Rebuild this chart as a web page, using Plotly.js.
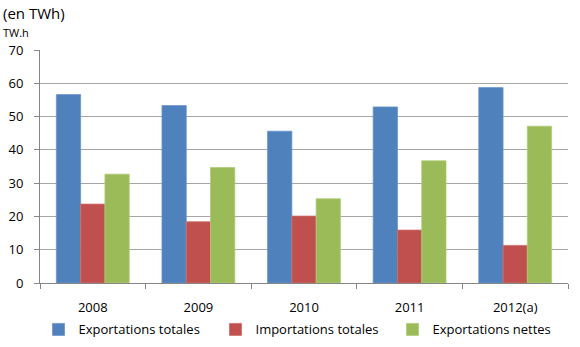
<!DOCTYPE html>
<html><head><meta charset="utf-8">
<script src="https://cdn.plot.ly/plotly-3.0.1.min.js"></script>
<style>body{margin:0;background:#fff}#c{width:580px;height:347px}</style>
</head><body><div id="c"></div>
<script>
const categories = ["2008", "2009", "2010", "2011", "2012(a)"];
const exportationsTotales = [56.6, 53.3, 45.6, 52.9, 58.7];
const importationsTotales = [23.7, 18.4, 20.1, 15.9, 11.3];
const exportationsNettes = [32.7, 34.7, 25.3, 36.7, 47.1];
const seriesNames = ["Exportations totales", "Importations totales", "Exportations nettes"];
const colors = ["#4F81BD", "#C0504D", "#9BBB59"];
const lineColors = ["#6a96cc", "#cc6e6b", "#b0cc78"];
const vals = [exportationsTotales, importationsTotales, exportationsNettes];

const fontFam = "'Open Sans', 'DejaVu Sans', sans-serif";
const traces = vals.map((v, i) => ({
  type: "bar", x: categories, y: v, name: seriesNames[i],
  marker: {color: colors[i], line: {color: lineColors[i], width: 0.8}}
}));

const layout = {
  width: 580, height: 347,
  margin: {l: 40, r: 12, t: 50, b: 64, autoexpand: false},
  paper_bgcolor: "#fff", plot_bgcolor: "#fff",
  barmode: "group", bargap: 0.31, bargroupgap: 0,
  font: {family: fontFam, size: 12, color: "#000"},
  xaxis: {
    type: "category", tickson: "boundaries", ticks: "outside", ticklen: 5,
    tickcolor: "#868686", showline: true, linecolor: "#868686", linewidth: 1,
    tickfont: {family: fontFam, size: 13, color: "#000"}, showgrid: false,
    ticklabelstandoff: 12, automargin: false
  },
  yaxis: {
    range: [0, 70], dtick: 10, ticks: "outside", ticklen: 5, tickcolor: "#868686",
    showline: true, linecolor: "#868686", linewidth: 1,
    gridcolor: "#a6a6a6", gridwidth: 1, zeroline: false,
    tickfont: {family: fontFam, size: 13, color: "#000"},
    ticklabelstandoff: 8, automargin: false
  },
  legend: {
    orientation: "h", x: 0.5, xanchor: "center", y: -0.135, yanchor: "top",
    font: {family: fontFam, size: 13, color: "#000"}, traceorder: "normal",
    itemwidth: 30, entrywidth: 132, entrywidthmode: "pixels"
  },
  annotations: [
    {text: "(en TWh)", xref: "paper", yref: "paper", x: -0.073, y: 1.157, xanchor: "left", yanchor: "middle",
     showarrow: false, font: {family: fontFam, size: 15, color: "#000"}},
    {text: "TW.h", xref: "paper", yref: "paper", x: -0.073, y: 1.073, xanchor: "left", yanchor: "middle",
     showarrow: false, font: {family: fontFam, size: 11, color: "#000"}}
  ]
};
Plotly.newPlot("c", traces, layout, {displayModeBar: false, staticPlot: true});
</script></body></html>
